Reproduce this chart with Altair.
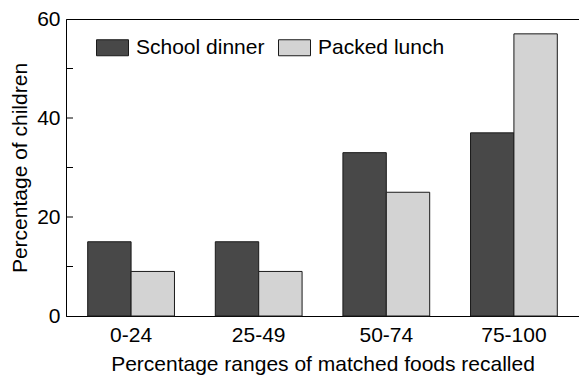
import altair as alt
import pandas as pd

categories = ["0-24", "25-49", "50-74", "75-100"]
series = ["School dinner", "Packed lunch"]
school_dinner = [15, 15, 33, 37]
packed_lunch = [9, 9, 25, 57]
colors = ["#484848", "#d3d3d3"]
y_labels = [0, 20, 40, 60]
y_minor = [10, 20, 30, 40, 50]

rows = []
for i, c in enumerate(categories):
    rows.append({"range": c, "series": series[0], "value": school_dinner[i]})
    rows.append({"range": c, "series": series[1], "value": packed_lunch[i]})
df = pd.DataFrame(rows)
ticks_df = pd.DataFrame({"value": y_minor})

FONT = "Liberation Sans"
FS = 21

yenc = alt.Y(
    "value:Q",
    scale=alt.Scale(domain=[0, 60], nice=False),
    axis=alt.Axis(
        title="Percentage of children",
        values=y_labels,
        ticks=False,
        grid=False,
        labelPadding=6,
        titlePadding=6,
    ),
)

bars = alt.Chart(df).mark_bar(stroke="#1a1a1a", strokeWidth=1).encode(
    x=alt.X(
        "range:N",
        sort=categories,
        scale=alt.Scale(paddingInner=0.32, paddingOuter=0.17),
        axis=alt.Axis(
            title="Percentage ranges of matched foods recalled",
            labelAngle=0,
            ticks=False,
            tickSize=0,
            labelPadding=8,
            titlePadding=8,
        ),
    ),
    xOffset=alt.XOffset("series:N", sort=series, scale=alt.Scale(paddingInner=0, paddingOuter=0)),
    y=yenc,
    fill=alt.Fill(
        "series:N",
        sort=series,
        scale=alt.Scale(domain=series, range=colors),
        legend=alt.Legend(
            title=None,
            orient="none",
            legendX=30,
            legendY=12,
            direction="horizontal",
            symbolType="M-1,-0.5L1,-0.5L1,0.5L-1,0.5Z",
            symbolSize=1024,
            symbolStrokeColor="#1a1a1a",
            symbolStrokeWidth=1,
            symbolOpacity=1,
            labelFontSize=FS,
            labelFont=FONT,
            labelColor="black",
            labelOffset=7,
            columnPadding=11,
        ),
    ),
)

ticks = alt.Chart(ticks_df).mark_rule(color="black", strokeWidth=1).encode(
    y=yenc,
    x=alt.value(0),
    x2=alt.value(7),
)

chart = (
    alt.layer(bars, ticks)
    .properties(
        width=513,
        height=297,
        autosize="none",
        padding={"left": 58, "top": 11, "right": 0, "bottom": 60},
    )
    .configure_view(stroke="black", strokeWidth=1)
    .configure_axis(
        domainColor="black",
        domainWidth=1,
        labelColor="black",
        titleColor="black",
        labelFont=FONT,
        titleFont=FONT,
        labelFontSize=FS,
        titleFontSize=FS,
        titleFontWeight="normal",
    )
)

chart.save("out.html", embed_options={"renderer": "svg", "actions": False})
